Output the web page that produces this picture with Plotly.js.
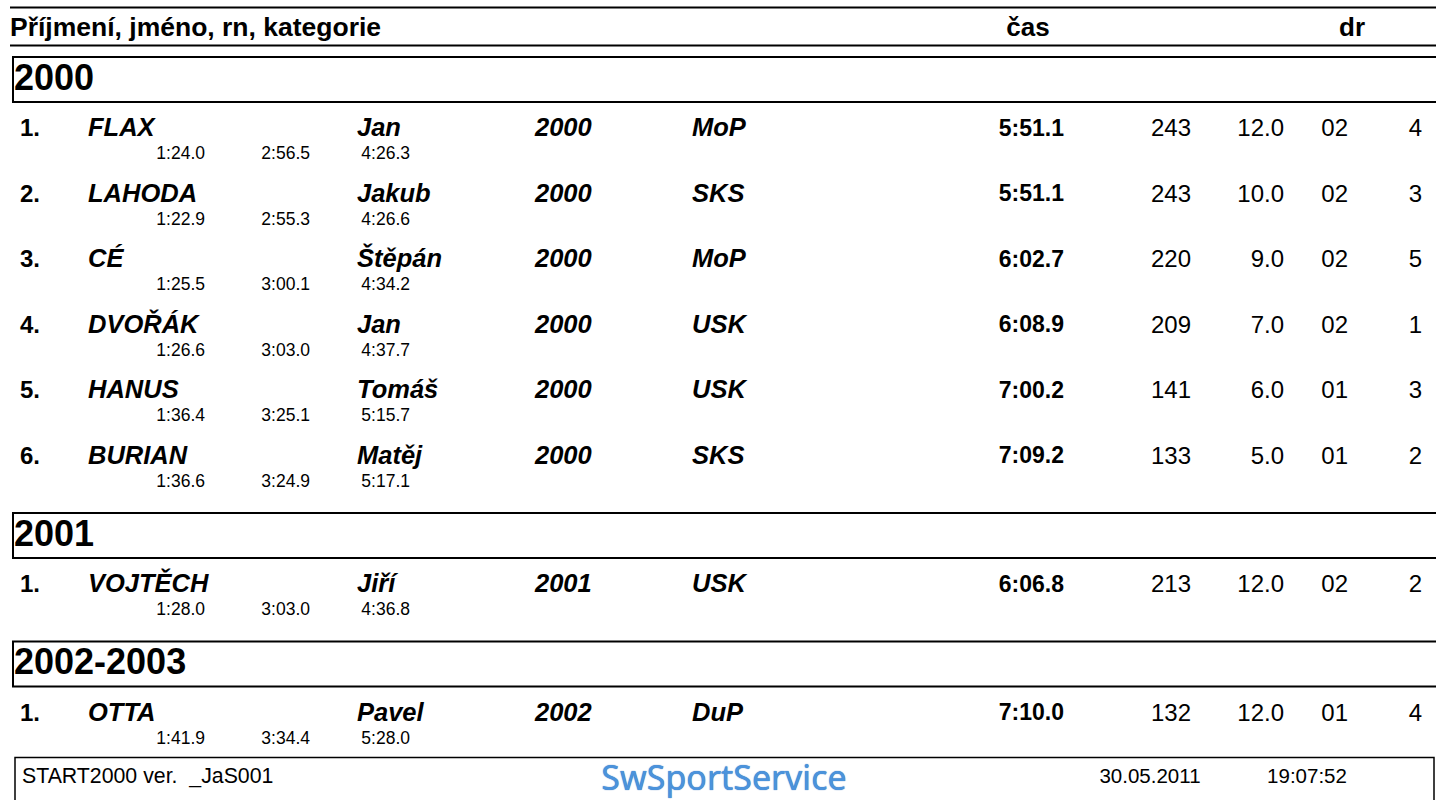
<!DOCTYPE html>
<html>
<head>
<meta charset="utf-8">
<script src="https://cdn.plot.ly/plotly-3.0.1.min.js"></script>
<style>html,body{margin:0;padding:0;background:#fff;overflow:hidden}#chart{width:1436px;height:800px}</style>
</head>
<body>
<div id="chart"></div>
<script>
// ---- data ----
const headerLabels = ['Příjmení, jméno, rn, kategorie', 'čas', 'dr'];
const groups = ['2000', '2001', '2002-2003'];
const groupOf = [0, 0, 0, 0, 0, 0, 1, 2];
const ranks = ['1.', '2.', '3.', '4.', '5.', '6.', '1.', '1.'];
const surnames = ['FLAX', 'LAHODA', 'CÉ', 'DVOŘÁK', 'HANUS', 'BURIAN', 'VOJTĚCH', 'OTTA'];
const firstNames = ['Jan', 'Jakub', 'Štěpán', 'Jan', 'Tomáš', 'Matěj', 'Jiří', 'Pavel'];
const birthYears = ['2000', '2000', '2000', '2000', '2000', '2000', '2001', '2002'];
const clubs = ['MoP', 'SKS', 'MoP', 'USK', 'USK', 'SKS', 'USK', 'DuP'];
const times = ['5:51.1', '5:51.1', '6:02.7', '6:08.9', '7:00.2', '7:09.2', '6:06.8', '7:10.0'];
const points = ['243', '243', '220', '209', '141', '133', '213', '132'];
const scores = ['12.0', '10.0', '9.0', '7.0', '6.0', '5.0', '12.0', '12.0'];
const lanes = ['02', '02', '02', '02', '01', '01', '02', '01'];
const heats = ['4', '3', '5', '1', '3', '2', '2', '4'];
const split1 = ['1:24.0', '1:22.9', '1:25.5', '1:26.6', '1:36.4', '1:36.6', '1:28.0', '1:41.9'];
const split2 = ['2:56.5', '2:55.3', '3:00.1', '3:03.0', '3:25.1', '3:24.9', '3:03.0', '3:34.4'];
const split3 = ['4:26.3', '4:26.6', '4:34.2', '4:37.7', '5:15.7', '5:17.1', '4:36.8', '5:28.0'];
const footerLeft = 'START2000 ver.  _JaS001';
const footerDate = '30.05.2011';
const footerTime = '19:07:52';
const logoParts = ['Sw', 'Sport', 'Service'];

// ---- layout geometry ----
const FONT = 'Liberation Sans, Arial, sans-serif';
const W = 1436, H = 800;
const boxH = 45, firstBoxTop = 57, rowOffset = 28, pitch = 65.5, afterGap = 55.5, splitOffset = 25;

const rowY = [];
const boxTops = [];
let lastGroup = -1;
let lastRow = null;
groupOf.forEach((g, i) => {
  if (g !== lastGroup) {
    const top = lastRow === null ? firstBoxTop : lastRow + afterGap;
    boxTops[g] = top;
    lastRow = top + boxH + rowOffset;
    lastGroup = g;
  } else {
    lastRow = lastRow + pitch;
  }
  rowY.push(lastRow);
});
const footerTop = lastRow + splitOffset + 18;

function col(text, x, y, pos, size, weight, style, color, extra) {
  const font = {family: FONT, size: size, weight: weight || 'normal', style: style || 'normal', color: color || '#000'};
  if (extra) Object.assign(font, extra);
  return {
    type: 'scatter', mode: 'text', hoverinfo: 'skip',
    x: text.map(() => x), y: y, text: text,
    textposition: pos,
    textfont: font
  };
}

const splitY = rowY.map(v => v + splitOffset);
const NS = 25.5, MS = 24;
const traces = [
  col(ranks, 20, rowY, 'middle right', MS, 'bold'),
  col(surnames, 88, rowY, 'middle right', NS, 'bold', 'italic'),
  col(firstNames, 357, rowY, 'middle right', NS, 'bold', 'italic'),
  col(birthYears, 535, rowY, 'middle right', NS, 'bold', 'italic'),
  col(clubs, 692, rowY, 'middle right', NS, 'bold', 'italic'),
  col(times, 1064, rowY, 'middle left', 23, 'bold'),
  col(points, 1191, rowY, 'middle left', MS),
  col(scores, 1284, rowY, 'middle left', MS),
  col(lanes, 1348, rowY, 'middle left', MS),
  col(heats, 1422, rowY, 'middle left', MS),
  col(split1, 205, splitY, 'middle left', 17.5),
  col(split2, 310, splitY, 'middle left', 17.5),
  col(split3, 410, splitY, 'middle left', 17.5),
  col(groups, 14, boxTops.map(t => t + boxH / 2 + 1), 'middle right', 36, 'bold'),
  col([headerLabels[0]], 10, [29], 'middle right', 26.5, 'bold'),
  col([headerLabels[1]], 1028, [29], 'middle center', 26, 'bold'),
  col([headerLabels[2]], 1352, [29], 'middle center', 26, 'bold'),
  col([footerLeft], 22, [footerTop + 20], 'middle right', 21.3),
  col([footerDate], 1150, [footerTop + 20], 'middle center', 20.5),
  col([footerTime], 1307, [footerTop + 20], 'middle center', 20.5),
  {
    type: 'scatter', mode: 'text', hoverinfo: 'skip',
    x: [724], y: [footerTop + 24],
    text: [logoParts.join('')],
    textposition: 'middle center',
    textfont: {family: 'Noto Sans, sans-serif', size: 34, weight: 400, color: '#4b93dc',
      shadow: '0 0 1px #1f5fb0'}
  }
];

const line = (y) => ({type: 'line', xref: 'x', yref: 'y', x0: 10, x1: W + 5, y0: y, y1: y, line: {color: '#000', width: 2}});
const shapes = [line(7.5), line(45.5)];
boxTops.forEach(t => shapes.push({type: 'rect', xref: 'x', yref: 'y', x0: 13, x1: W + 10, y0: t, y1: t + boxH, line: {color: '#000', width: 2}}));
shapes.push({type: 'rect', xref: 'x', yref: 'y', x0: 15, x1: 1434, y0: footerTop, y1: H + 10, line: {color: '#000', width: 1.5}});

const layout = {
  width: W, height: H,
  margin: {l: 0, r: 0, t: 0, b: 0, pad: 0},
  paper_bgcolor: '#fff', plot_bgcolor: '#fff',
  showlegend: false,
  xaxis: {range: [0, W], visible: false, fixedrange: true},
  yaxis: {range: [H, 0], visible: false, fixedrange: true},
  shapes: shapes
};

Plotly.newPlot('chart', traces, layout, {staticPlot: true, displayModeBar: false});
</script>
</body>
</html>
